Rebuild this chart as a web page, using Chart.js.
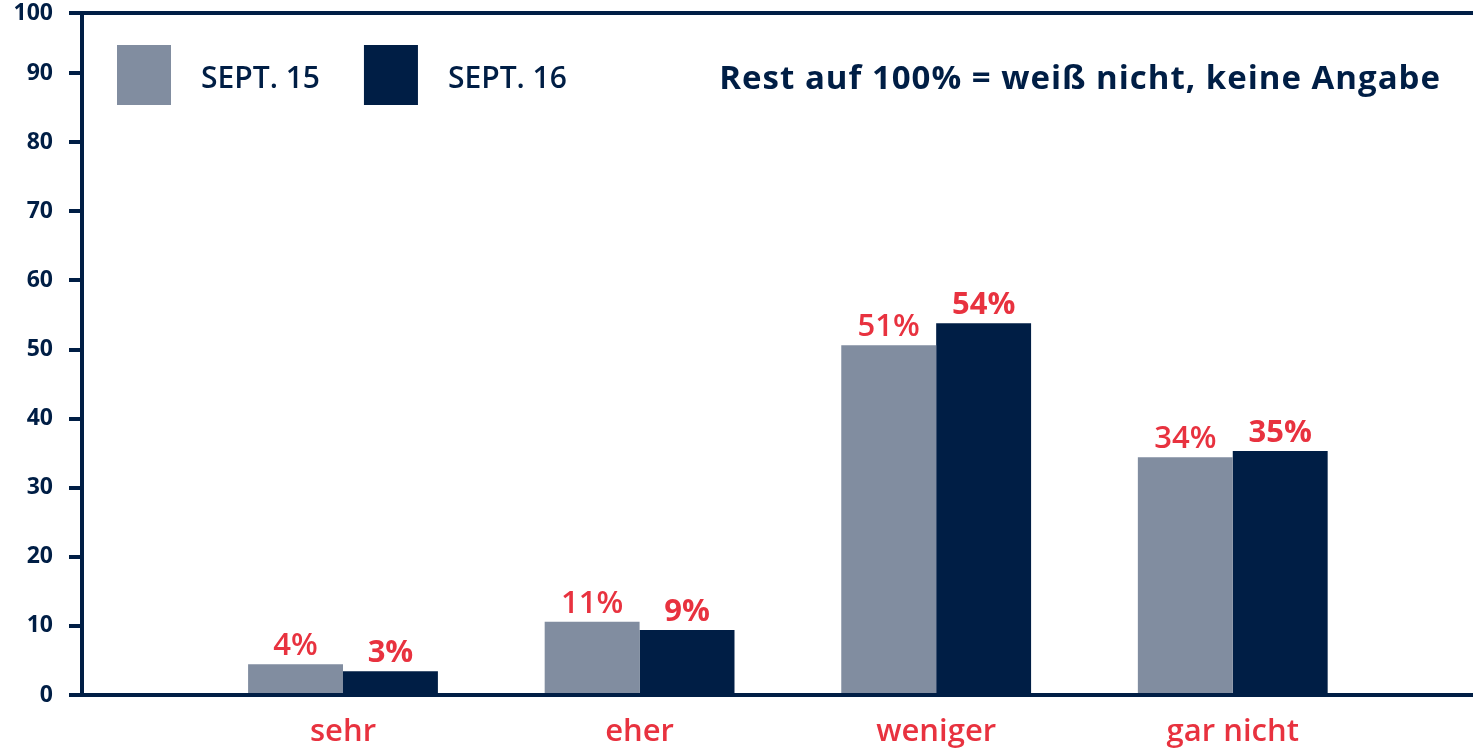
<!DOCTYPE html>
<html lang="de">
<head>
  <meta charset="UTF-8">
  <title>Sept. 15 / Sept. 16</title>
  <script src="https://cdn.jsdelivr.net/npm/chart.js"></script>
  <style>
    html, body {
      height: 100%;
      margin: 0;
      background: #fff;
    }
    #chart-container {
      width: 1473px;
      height: 751px;
      position: relative;
    }
  </style>
</head>
<body>
  <div id="chart-container">
    <canvas id="umfrageChart"></canvas>
  </div>
  <script>
    const categories = ['sehr', 'eher', 'weniger', 'gar nicht'];
    const sept15 = [4.45, 10.6, 50.6, 34.4];
    const sept16 = [3.45, 9.4, 53.8, 35.3];
    const yTicks = [0, 10, 20, 30, 40, 50, 60, 70, 80, 90, 100];
    const yTop = 98.7; // top frame line sits a little below 100 in the original
    const note = 'Rest auf 100% = weiß nicht, keine Angabe';

    const NAVY = '#001e45';
    const GREY = '#818da0';
    const RED = '#e8323f';
    const FONT = '"Open Sans", Lato, sans-serif';

    // legend + note drawn inside the plot, top left / top right
    const topTexts = {
      id: 'topTexts',
      afterDraw(chart) {
        const { ctx, chartArea } = chart;
        ctx.save();
        ctx.textBaseline = 'alphabetic';
        ctx.textAlign = 'left';
        ctx.font = '600 30px ' + FONT;
        let x = chartArea.left + 35;
        chart.data.datasets.forEach(ds => {
          ctx.fillStyle = ds.backgroundColor;
          ctx.fillRect(x, 45, 54, 60);
          ctx.fillStyle = NAVY;
          ctx.fillText(ds.label, x + 54 + 30, 88);
          x += 54 + 30 + ctx.measureText(ds.label).width + 44;
        });
        ctx.font = 'bold 33px ' + FONT;
        ctx.letterSpacing = '1px';
        ctx.textAlign = 'right';
        ctx.fillStyle = NAVY;
        ctx.fillText(note, chartArea.right - 32, 89);
        ctx.restore();
      }
    };

    // red percentage labels above bars
    const valueLabels = {
      id: 'valueLabels',
      afterDatasetsDraw(chart) {
        const { ctx } = chart;
        ctx.save();
        ctx.fillStyle = RED;
        ctx.textAlign = 'center';
        ctx.textBaseline = 'alphabetic';
        chart.data.datasets.forEach((ds, di) => {
          ctx.font = (di === 0 ? '600 ' : 'bold ') + '31px ' + FONT;
          chart.getDatasetMeta(di).data.forEach((bar, i) => {
            ctx.fillText(Math.round(ds.data[i].y) + '%', bar.x, bar.y - 9);
          });
        });
        ctx.restore();
      }
    };

    const ctx = document.getElementById('umfrageChart').getContext('2d');
    const chart = new Chart(ctx, {
      type: 'bar',
      data: {
        datasets: [
          { label: 'SEPT. 15', data: sept15.map((v, i) => ({ x: i + 1, y: v })), backgroundColor: GREY },
          { label: 'SEPT. 16', data: sept16.map((v, i) => ({ x: i + 1, y: v })), backgroundColor: NAVY }
        ]
      },
      plugins: [ valueLabels, topTexts ],
      options: {
        responsive: true,
        maintainAspectRatio: false,
        animation: false,
        categoryPercentage: 0.64,
        barPercentage: 1.0,
        layout: { padding: { top: 13, right: 0, left: 0, bottom: 0 } },
        plugins: {
          legend: { display: false },
          tooltip: { enabled: false }
        },
        scales: {
          x: {
            type: 'linear',
            offset: false,
            min: 0.12,
            max: 4.81,
            afterFit: s => { s.height = 56; s.paddingLeft = 0; s.paddingRight = 0; },
            grid: { display: false },
            border: { color: NAVY, width: 4 },
            ticks: {
              stepSize: 1,
              includeBounds: false,
              autoSkip: false,
              maxRotation: 0,
              padding: 11,
              color: RED,
              font: { family: FONT, size: 31, weight: '600' },
              callback: v => Number.isInteger(v) ? categories[v - 1] : ''
            }
          },
          y: {
            min: 0,
            max: yTop,
            afterFit: s => { s.width = 82; s.paddingTop = 0; s.paddingBottom = 0; },
            afterBuildTicks: s => { s.ticks = yTicks.map(v => ({ value: Math.min(v, yTop) })); },
            border: { color: NAVY, width: 4 },
            grid: {
              color: c => c.tick && c.tick.value === yTop ? NAVY : 'rgba(0,0,0,0)',
              lineWidth: 4,
              tickColor: NAVY,
              tickLength: 13,
              tickWidth: 4
            },
            ticks: {
              padding: 16,
              color: NAVY,
              font: { family: FONT, size: 23, weight: 'bold' },
              callback: (v, i) => yTicks[i]
            }
          }
        }
      }
    });
  </script>
</body>
</html>
